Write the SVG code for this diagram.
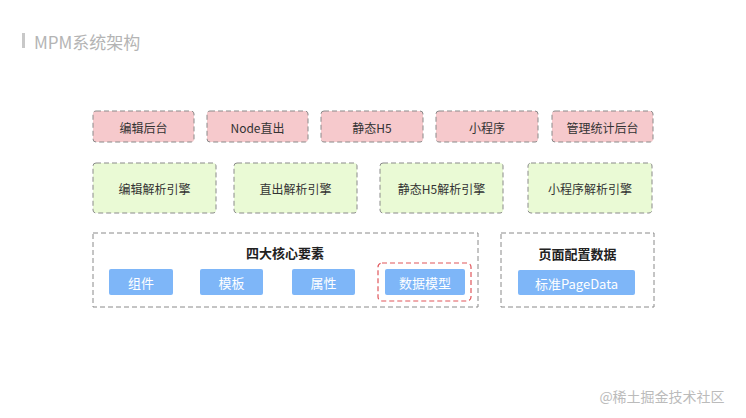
<svg xmlns="http://www.w3.org/2000/svg" width="746" height="418" viewBox="0 0 746 418">
<style>
text{font-family:"Noto Sans CJK SC","Noto Sans",sans-serif;text-anchor:middle;dominant-baseline:central}
.r{fill:#f6c9cc;stroke:#8a8a8a;stroke-width:1;stroke-dasharray:5 3}
.g{fill:#eafad5;stroke:#8a8a8a;stroke-width:1;stroke-dasharray:5 3}
.c{fill:#fff;stroke:#8a8a8a;stroke-width:1;stroke-dasharray:5 3}
.b{fill:#7eb6f8}
.t{font-size:12px;fill:#333}
.w{font-size:13px;fill:#fff}
.h{font-size:13px;fill:#222;font-weight:bold}
</style>
<rect width="746" height="418" fill="#fff"/>
<rect x="22" y="33" width="3" height="15" fill="#c8c8c8"/>
<text x="34" y="41" style="text-anchor:start;font-size:17px;fill:#b4b4b4">MPM系统架构</text>
<g id="n1"><rect class="r" x="93" y="111" width="101" height="31" rx="3"/><text class="t" x="143.5" y="127">编辑后台</text></g>
<g id="n2"><rect class="r" x="207" y="111" width="101" height="31" rx="3"/><text class="t" x="257.5" y="127">Node直出</text></g>
<g id="n3"><rect class="r" x="321" y="111" width="102" height="31" rx="3"/><text class="t" x="372" y="127">静态H5</text></g>
<g id="n4"><rect class="r" x="436" y="111" width="102" height="31" rx="3"/><text class="t" x="487" y="127">小程序</text></g>
<g id="n5"><rect class="r" x="552" y="111" width="101" height="31" rx="3"/><text class="t" x="602.5" y="127">管理统计后台</text></g>
<g id="e1"><rect class="g" x="93" y="163" width="123" height="50" rx="3"/><text class="t" x="154.5" y="188">编辑解析引擎</text></g>
<g id="e2"><rect class="g" x="234" y="163" width="123" height="50" rx="3"/><text class="t" x="295.5" y="188">直出解析引擎</text></g>
<g id="e3"><rect class="g" x="380" y="163" width="123" height="50" rx="3"/><text class="t" x="441.5" y="188">静态H5解析引擎</text></g>
<g id="e4"><rect class="g" x="528" y="163" width="124" height="50" rx="3"/><text class="t" x="590" y="188">小程序解析引擎</text></g>
<g id="core">
<rect class="c" x="93" y="233" width="385" height="74"/>
<text class="h" x="285" y="252">四大核心要素</text>
<rect class="b" x="109" y="269" width="64" height="26" rx="2"/><text class="w" x="141" y="282">组件</text>
<rect class="b" x="200" y="269" width="63" height="26" rx="2"/><text class="w" x="231.5" y="282">模板</text>
<rect class="b" x="292" y="269" width="63" height="26" rx="2"/><text class="w" x="323.5" y="282">属性</text>
<rect x="378" y="263" width="93" height="38" rx="4" fill="none" stroke="#e0565b" stroke-width="1.2" stroke-dasharray="5 3"/>
<rect class="b" x="385" y="269" width="80" height="26" rx="2"/><text class="w" x="425" y="282">数据模型</text>
</g>
<g id="page">
<rect class="c" x="501" y="233" width="153" height="74"/>
<text class="h" x="577.5" y="253">页面配置数据</text>
<rect class="b" x="518" y="270" width="117" height="25" rx="2"/><text class="w" x="576.5" y="283">标准PageData</text>
</g>
<g id="connectors"/>
<text x="662" y="396" style="font-size:14px;fill:#bbb">@稀土掘金技术社区</text>
</svg>
